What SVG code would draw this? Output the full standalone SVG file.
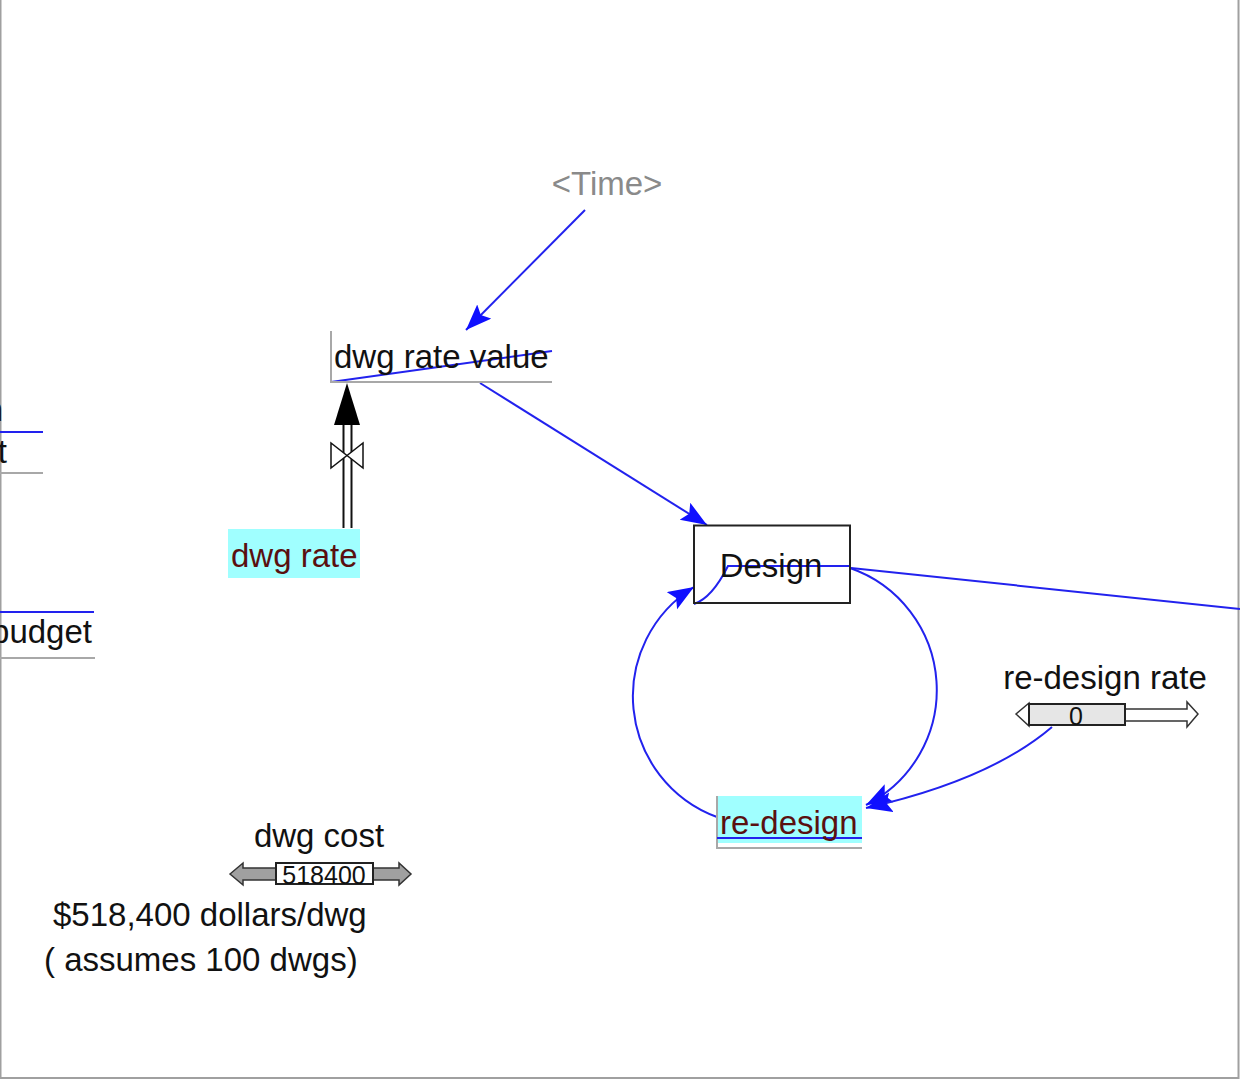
<svg xmlns="http://www.w3.org/2000/svg" width="1240" height="1080" viewBox="0 0 1240 1080">
<style>
.t{font-family:"Liberation Sans",Arial,sans-serif;font-size:33px;fill:#111}
.red{fill:#5a1010}
.gray{fill:#8a8a8a}
.c{fill:none;stroke:#2222ee;stroke-width:2}
.g{stroke:#a8a8a8;stroke-width:2;fill:none}
.sm{font-family:"Liberation Sans",Arial,sans-serif;font-size:25px;fill:#111}
</style>
<defs>
<marker id="ah" markerUnits="userSpaceOnUse" markerWidth="30" markerHeight="24" refX="26" refY="10" orient="auto">
<path d="M0,0 L26,10 L0,20 L5,10 Z" fill="#1010ff"/>
</marker>
</defs>
<rect x="0.5" y="-2" width="1238" height="1080" fill="#fff" stroke="#a0a0a0" stroke-width="2"/>

<g id="connectors">
<path class="c" d="M585,210 L466,330" marker-end="url(#ah)"/>
<path class="c" d="M480,383 L707,525" marker-end="url(#ah)"/>
<path class="c" d="M331,382 L552,351"/>
<path class="c" d="M694,604 Q712,598 728,566 L851,566"/>
<path class="c" d="M851,568 L1240,609"/>
<path class="c" d="M717,817 A128.5,128.5 0 0 1 694,587" marker-end="url(#ah)"/>
<path class="c" d="M850,568 A129,129 0 0 1 866,805" marker-end="url(#ah)"/>
<path class="c" d="M1052,727 Q990,780 866,808" marker-end="url(#ah)"/>
</g>

<g id="time">
<text class="t gray" x="607" y="195" text-anchor="middle">&lt;Time&gt;</text>
</g>

<g id="dwg-rate-value">
<path class="g" d="M331,331 L331,382 L552,382"/>
<text class="t" x="334" y="368">dwg rate value</text>
</g>

<g id="flow-dwg-rate">
<line x1="343.5" y1="420" x2="343.5" y2="528" stroke="#111" stroke-width="2"/>
<line x1="351.5" y1="420" x2="351.5" y2="528" stroke="#111" stroke-width="2"/>
<path d="M347,383 L334,425 L360,425 Z" fill="#000"/>
<path d="M331,443 L331,468 L363,443 L363,468 Z" fill="#fff" stroke="#111" stroke-width="1.5"/>
</g>

<g id="dwg-rate">
<rect x="228" y="529" width="132" height="49" fill="#a0ffff"/>
<text class="t red" x="231" y="567">dwg rate</text>
</g>

<g id="left-partial-1">
<text class="t" x="3" y="421" text-anchor="end">n</text>
<line x1="0" y1="432" x2="43" y2="432" stroke="#2222ee" stroke-width="2"/>
<text class="t" x="7" y="463" text-anchor="end">t</text>
<line x1="0" y1="473" x2="43" y2="473" stroke="#a8a8a8" stroke-width="2"/>
</g>

<g id="left-partial-2">
<line x1="0" y1="612" x2="94" y2="612" stroke="#2222ee" stroke-width="2"/>
<text class="t" x="92" y="643" text-anchor="end">budget</text>
<line x1="0" y1="658" x2="95" y2="658" stroke="#a8a8a8" stroke-width="2"/>
</g>

<g id="design">
<rect x="694" y="525.5" width="156" height="77.5" fill="none" stroke="#222" stroke-width="2"/>
<text class="t" x="771" y="577" text-anchor="middle">Design</text>
</g>

<g id="re-design">
<rect x="717" y="796" width="145" height="47" fill="#a0ffff"/>
<path class="g" d="M717,796 L717,848 L862,848"/>
<line x1="717" y1="838" x2="862" y2="838" stroke="#2222ee" stroke-width="2"/>
<text class="t red" x="720" y="834">re-design</text>
</g>

<g id="re-design-rate">
<text class="t" x="1105" y="689" text-anchor="middle">re-design rate</text>
<path d="M1016,714 L1029,703 L1029,726 Z" fill="#fff" stroke="#333" stroke-width="1.5"/>
<path d="M1125,709 L1187,709 L1187,702 L1198,714 L1187,727 L1187,721 L1125,721" fill="#fff" stroke="#333" stroke-width="1.5"/>
<rect x="1029" y="704" width="96" height="21" fill="#e6e6e6" stroke="#222" stroke-width="2"/>
<text class="sm" x="1076" y="725" text-anchor="middle">0</text>
</g>

<g id="dwg-cost">
<text class="t" x="319" y="847" text-anchor="middle">dwg cost</text>
<path d="M230,874 L243,863 L243,868 L276,868 L276,880 L243,880 L243,885 Z" fill="#a0a0a0" stroke="#333" stroke-width="1.5"/>
<path d="M373,868 L399,868 L399,863 L411,874 L399,885 L399,880 L373,880 Z" fill="#a0a0a0" stroke="#333" stroke-width="1.5"/>
<rect x="276" y="863" width="97" height="21" fill="#fff" stroke="#222" stroke-width="2"/>
<text class="sm" x="324" y="884" text-anchor="middle">518400</text>
</g>

<g id="note">
<text class="t" x="53" y="926">$518,400 dollars/dwg</text>
<text class="t" x="44" y="971">( assumes 100 dwgs)</text>
</g>
</svg>
